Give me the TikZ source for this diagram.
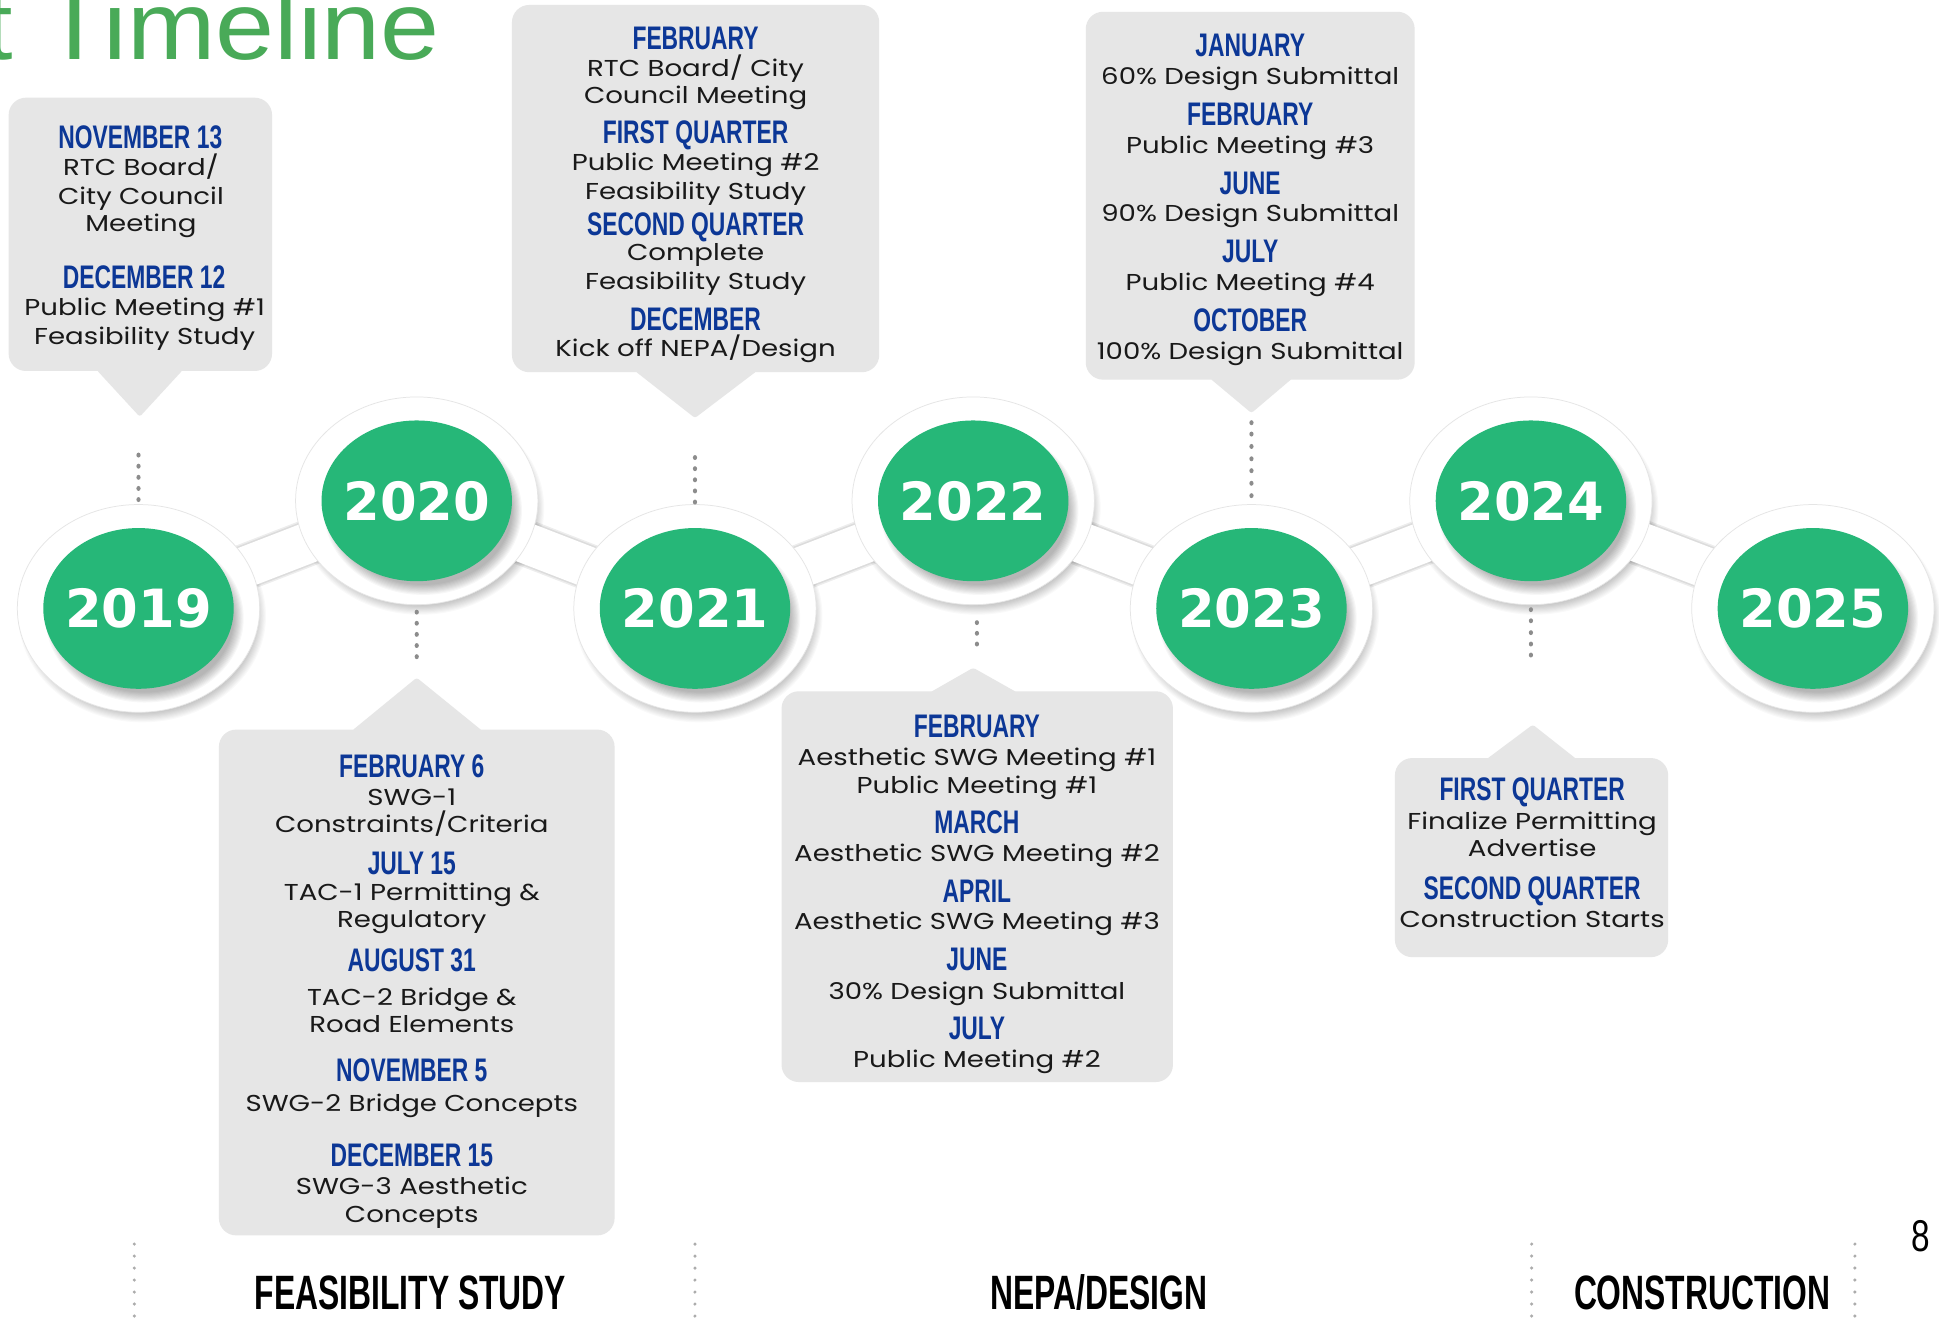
\documentclass[tikz,border=0pt]{standalone}
\usepackage{fontspec}
\setmainfont[FakeStretch=1.2]{Poppins}
\newfontfamily\hdfont[FakeStretch=0.70]{Liberation Sans}
\newfontfamily\yrfont{DejaVu Sans}
\newfontfamily\btfont[FakeStretch=0.66]{Liberation Sans}
\newfontfamily\ttlfont[FakeStretch=1.1]{Liberation Sans}
\newfontfamily\pgnfont[FakeStretch=0.75]{Liberation Sans}
\usetikzlibrary{shapes.geometric}
\definecolor{ballgreen}{RGB}{38,183,120}
\definecolor{titlegreen}{RGB}{73,170,88}
\definecolor{tlblue}{RGB}{12,55,150}
\definecolor{boxgray}{RGB}{230,230,230}
\definecolor{dotgray}{RGB}{140,140,140}
\definecolor{lightdot}{RGB}{172,172,172}
\definecolor{txtblack}{RGB}{25,25,25}
\tikzset{
  hd/.style={font=\hdfont\bfseries\fontsize{13.2}{13.2}\selectfont, text=tlblue, anchor=base, inner sep=0pt},
  tx/.style={font=\fontsize{9.3}{9.3}\selectfont, text=txtblack, anchor=base, inner sep=0pt},
  halo/.style={ellipse, fill=white, draw=black!10, line width=0.3pt, minimum width=98pt, minimum height=84pt, inner sep=0pt},
  ball/.style={ellipse, fill=ballgreen, minimum width=77pt, minimum height=65pt, inner sep=0pt},
  yr/.style={text=white, font=\yrfont\bfseries\fontsize{21.3}{21.3}\selectfont, inner sep=0pt},
  boxfill/.style={fill=boxgray},
  band/.style={line width=16.5pt, white, line join=round},
  bandshadow/.style={line width=#1, black, opacity=0.07, line join=round},
  gdot/.style={fill=dotgray},
  ldot/.style={fill=lightdot},
  phase/.style={font=\btfont\bfseries\fontsize{19.5}{19.5}\selectfont, text=black, anchor=base, inner sep=0pt},
}
\newcommand\softshadow[5]{%
  \foreach \k in {0,...,9}{\fill[black,opacity=#5] (#1,#2) ellipse[x radius={#3+\k*0.9}, y radius={#4+\k*0.9}];}}
\newcommand\tl[5]{\node[#1] (#2) at (#3,#4) {#5};}
\begin{document}
\begin{tikzpicture}[x=0.5pt,y=-0.5pt]
\useasboundingbox (0,0) rectangle (1568,1072);
\fill[white] (0,0) rectangle (1568,1072);

% title
\node[anchor=base west, inner sep=0pt, text=titlegreen, font=\ttlfont\fontsize{39}{39}\selectfont] (title) at (-13.5,48.5) {t Timeline};

% centres
\coordinate (c2019) at (112,492);
\coordinate (c2020) at (337,405);
\coordinate (c2021) at (562,492);
\coordinate (c2022) at (787,405);
\coordinate (c2023) at (1012,492);
\coordinate (c2024) at (1238,405);
\coordinate (c2025) at (1466,492);

% band shadows
\begin{scope}[yshift=-1pt]
\draw[bandshadow=19pt] (c2019)--(c2020)--(c2021)--(c2022)--(c2023)--(c2024)--(c2025);
\draw[bandshadow=17.8pt] (c2019)--(c2020)--(c2021)--(c2022)--(c2023)--(c2024)--(c2025);
\end{scope}
% halo shadows
\foreach \cx/\cy in {112/492,337/405,562/492,787/405,1012/492,1238/405,1466/492}{
  \softshadow{\cx+3}{\cy+6}{92}{78}{0.025}
}
% band
\draw[band] (c2019)--(c2020)--(c2021)--(c2022)--(c2023)--(c2024)--(c2025);
% halos
\foreach \y in {2019,...,2025}{\node[halo] (h\y) at (c\y) {};}
% green shadows
\foreach \cx/\cy in {112/492,337/405,562/492,787/405,1012/492,1238/405,1466/492}{
  \softshadow{\cx+5}{\cy+8}{72}{60}{0.03}
}
% green balls
\foreach \y in {2019,...,2025}{
  \node[ball] (g\y) at (c\y) {};
  \node[yr] (t\y) at (g\y) {\y};
}

% dotted connectors
\foreach \yy in {368,377,386,395,404}{\fill[gdot] (112,\yy) ellipse[x radius=1.7, y radius=2];}
\foreach \yy in {495,504,513,522,531}{\fill[gdot] (337,\yy) ellipse[x radius=1.7, y radius=2];}
\foreach \yy in {370,379,388,397,406}{\fill[gdot] (562,\yy) ellipse[x radius=1.7, y radius=2];}
\foreach \yy in {503.5,512.1,520.8}{\fill[gdot] (790,\yy) ellipse[x radius=1.7, y radius=2];}
\foreach \yy in {341.8,351,361,371,380.6,390.8,400.8}{\fill[gdot] (1012,\yy) ellipse[x radius=1.7, y radius=2];}
\foreach \yy in {493,502,511.6,520.8,529.7}{\fill[gdot] (1238,\yy) ellipse[x radius=1.7, y radius=2];}

% boxes
\fill[boxfill, rounded corners=7pt] (7,79) rectangle (220,300);
\fill[boxfill, rounded corners=1pt] (78,299) -- (148,299) -- (113,337) -- cycle;
\fill[boxfill, rounded corners=7pt] (414,4) rectangle (711,301);
\fill[boxfill, rounded corners=1pt] (513.5,300) -- (612,300) -- (562,338) -- cycle;
\fill[boxfill, rounded corners=7pt] (878,9.5) rectangle (1144,307);
\fill[boxfill, rounded corners=1pt] (978.5,306) -- (1045,306) -- (1012,334) -- cycle;
\fill[boxfill, rounded corners=7pt] (177,590) rectangle (497,999);
\fill[boxfill, rounded corners=1pt] (284.5,591) -- (390,591) -- (337,548) -- cycle;
\fill[boxfill, rounded corners=7pt] (632,559) rectangle (948.5,875);
\fill[boxfill, rounded corners=1pt] (752,560) -- (822.5,560) -- (787,540) -- cycle;
\fill[boxfill, rounded corners=7pt] (1128,613) rectangle (1349,774);
\fill[boxfill, rounded corners=1pt] (1202,614) -- (1275,614) -- (1239.5,586) -- cycle;

% box A
\tl{hd}{a1}{113.5}{120}{NOVEMBER 13}
\tl{tx}{a2}{114}{142.3}{RTC Board/}
\tl{tx}{a3}{114}{165}{City Council}
\tl{tx}{a4}{114}{187.3}{Meeting}
\tl{hd}{a5}{116.5}{233}{DECEMBER 12}
\tl{tx}{a6}{117}{255.5}{Public Meeting \#1}
\tl{tx}{a7}{117}{278.4}{Feasibility Study}
% box B
\tl{hd}{b1}{562.5}{40}{FEBRUARY}
\tl{tx}{b2}{562.5}{61.5}{RTC Board/ City}
\tl{tx}{b3}{562.5}{83.5}{Council Meeting}
\tl{hd}{b4}{562.5}{116.4}{FIRST QUARTER}
\tl{tx}{b5}{562.5}{138}{Public Meeting \#2}
\tl{tx}{b6}{562.5}{161}{Feasibility Study}
\tl{hd}{b7}{562.5}{190.8}{SECOND QUARTER}
\tl{tx}{b8}{562.5}{211}{Complete}
\tl{tx}{b9}{562.5}{234}{Feasibility Study}
\tl{hd}{b10}{562.5}{267.4}{DECEMBER}
\tl{tx}{b11}{562.5}{288}{Kick off NEPA/Design}
% box C
\tl{hd}{c1}{1011}{45.8}{JANUARY}
\tl{tx}{c2}{1011}{68.7}{60\% Design Submittal}
\tl{hd}{c3}{1011}{101.6}{FEBRUARY}
\tl{tx}{c4}{1011}{124}{Public Meeting \#3}
\tl{hd}{c5}{1011}{156.9}{JUNE}
\tl{tx}{c6}{1011}{179.3}{90\% Design Submittal}
\tl{hd}{c7}{1011}{212.1}{JULY}
\tl{tx}{c8}{1011}{235.3}{Public Meeting \#4}
\tl{hd}{c9}{1011}{268.2}{OCTOBER}
\tl{tx}{c10}{1011}{290.6}{100\% Design Submittal}
% box D
\tl{hd}{d1}{333}{628.7}{FEBRUARY 6}
\tl{tx}{d2}{333}{651}{SWG-1}
\tl{tx}{d3}{333}{673.5}{Constraints/Criteria}
\tl{hd}{d4}{333}{707.3}{JULY 15}
\tl{tx}{d5}{333}{728}{TAC-1 Permitting \&}
\tl{tx}{d6}{333}{750}{Regulatory}
\tl{hd}{d7}{333}{785.9}{AUGUST 31}
\tl{tx}{d8}{333}{812.7}{TAC-2 Bridge \&}
\tl{tx}{d9}{333}{835.2}{Road Elements}
\tl{hd}{d10}{333}{874.8}{NOVEMBER 5}
\tl{tx}{d11}{333}{898.8}{SWG-2 Bridge Concepts}
\tl{hd}{d12}{333}{943.2}{DECEMBER 15}
\tl{tx}{d13}{333}{965.8}{SWG-3 Aesthetic}
\tl{tx}{d14}{333}{988.9}{Concepts}
% box E
\tl{hd}{e1}{790}{596.5}{FEBRUARY}
\tl{tx}{e2}{790}{619.2}{Aesthetic SWG Meeting \#1}
\tl{tx}{e3}{790}{641.5}{Public Meeting \#1}
\tl{hd}{e4}{790}{674.4}{MARCH}
\tl{tx}{e5}{790}{696.8}{Aesthetic SWG Meeting \#2}
\tl{hd}{e6}{790}{729.7}{APRIL}
\tl{tx}{e7}{790}{752}{Aesthetic SWG Meeting \#3}
\tl{hd}{e8}{790}{785}{JUNE}
\tl{tx}{e9}{790}{808.1}{30\% Design Submittal}
\tl{hd}{e10}{790}{840.5}{JULY}
\tl{tx}{e11}{790}{863.1}{Public Meeting \#2}
% box F
\tl{hd}{f1}{1239}{647.7}{FIRST QUARTER}
\tl{tx}{f2}{1239}{670.6}{Finalize Permitting}
\tl{tx}{f3}{1239}{692.8}{Advertise}
\tl{hd}{f4}{1239}{727.2}{SECOND QUARTER}
\tl{tx}{f5}{1239}{749.9}{Construction Starts}

% phase separators
\foreach \xx in {108.6,562,1238.6,1500}{
  \foreach \yy in {0,...,6}{\fill[ldot] (\xx,1006+\yy*9.7) circle[radius=1.4];}
}
% phase labels
\tl{phase}{p1}{332}{1059}{FEASIBILITY STUDY}
\tl{phase}{p2}{888.5}{1059}{NEPA/DESIGN}
\tl{phase}{p3}{1376.5}{1059}{CONSTRUCTION}
% page number
\node[anchor=base, inner sep=0pt, font=\pgnfont\fontsize{18}{18}\selectfont] (pg) at (1553,1012) {8};
\end{tikzpicture}
\end{document}
